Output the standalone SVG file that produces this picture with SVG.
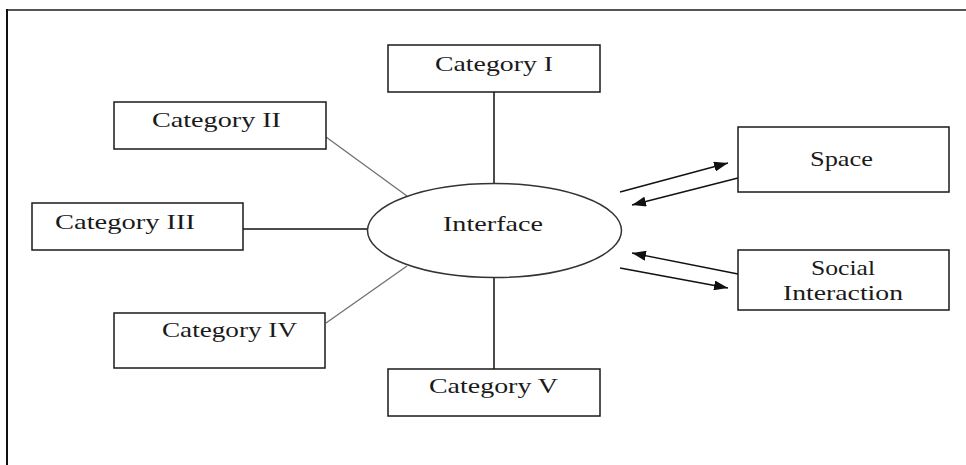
<svg xmlns="http://www.w3.org/2000/svg" width="966" height="465" viewBox="0 0 966 465">
  <style>
    .box { fill: #ffffff; stroke: #1a1a1a; stroke-width: 1.5; }
    .oval { fill: #ffffff; stroke: #333333; stroke-width: 1.5; }
    .lbl { font-family: "Liberation Serif", "Times New Roman", serif; font-size: 22px; fill: #1a1a1a; text-anchor: middle; }
    .link { stroke: #111111; stroke-width: 1.5; fill: none; }
    .link-soft { stroke: #707070; stroke-width: 1.3; fill: none; }
    .flow { stroke: #111111; stroke-width: 1.4; fill: none; marker-end: url(#head); }
  </style>
  <defs>
    <marker id="head" viewBox="0 0 14 10" refX="14" refY="5" markerWidth="14" markerHeight="10" markerUnits="userSpaceOnUse" orient="auto">
      <path d="M0,0 L14,5 L0,10 Z" fill="#111111"/>
    </marker>
  </defs>

  <rect width="966" height="465" fill="#ffffff"/>

  <!-- outer frame: top and left edges only -->
  <g id="frame">
    <line x1="7" y1="10" x2="966" y2="10" stroke="#555555" stroke-width="2"/>
    <line x1="7" y1="9" x2="7" y2="465" stroke="#111111" stroke-width="2"/>
  </g>

  <!-- connectors -->
  <g id="connectors">
    <line class="link" x1="494" y1="92" x2="494" y2="183"/>
    <line class="link-soft" x1="326" y1="137" x2="407" y2="196"/>
    <line class="link" x1="243" y1="229" x2="367" y2="229"/>
    <line class="link-soft" x1="326" y1="323" x2="407" y2="266"/>
    <line class="link" x1="494" y1="277" x2="494" y2="369"/>
    <line class="flow" x1="620" y1="192" x2="728" y2="163"/>
    <line class="flow" x1="738" y1="178" x2="632" y2="205"/>
    <line class="flow" x1="738" y1="274" x2="632" y2="253"/>
    <line class="flow" x1="620" y1="268" x2="728" y2="288"/>
  </g>

  <g id="interface">
    <ellipse class="oval" cx="494.5" cy="230.5" rx="127" ry="47"/>
    <text class="lbl" x="493" y="231" textLength="100" lengthAdjust="spacingAndGlyphs">Interface</text>
  </g>

  <g id="category-1">
    <rect class="box" x="388" y="45" width="212" height="47"/>
    <text class="lbl" x="494" y="71" textLength="118" lengthAdjust="spacingAndGlyphs">Category I</text>
  </g>

  <g id="category-2">
    <rect class="box" x="114" y="102" width="212" height="47"/>
    <text class="lbl" x="216.5" y="127" textLength="129" lengthAdjust="spacingAndGlyphs">Category II</text>
  </g>

  <g id="category-3">
    <rect class="box" x="32" y="203" width="211" height="47"/>
    <text class="lbl" x="125" y="229" textLength="140" lengthAdjust="spacingAndGlyphs">Category III</text>
  </g>

  <g id="category-4">
    <rect class="box" x="114" y="313" width="211" height="55"/>
    <text class="lbl" x="229.5" y="337" textLength="135" lengthAdjust="spacingAndGlyphs">Category IV</text>
  </g>

  <g id="category-5">
    <rect class="box" x="388" y="369" width="212" height="47"/>
    <text class="lbl" x="493.5" y="393" textLength="129" lengthAdjust="spacingAndGlyphs">Category V</text>
  </g>

  <g id="space">
    <rect class="box" x="738" y="127" width="211" height="65"/>
    <text class="lbl" x="841.5" y="166" textLength="63" lengthAdjust="spacingAndGlyphs">Space</text>
  </g>

  <g id="social-interaction">
    <rect class="box" x="738" y="250" width="211" height="60"/>
    <text class="lbl" x="843" y="275" textLength="64" lengthAdjust="spacingAndGlyphs">Social</text>
    <text class="lbl" x="843" y="300" textLength="120" lengthAdjust="spacingAndGlyphs">Interaction</text>
  </g>
</svg>
